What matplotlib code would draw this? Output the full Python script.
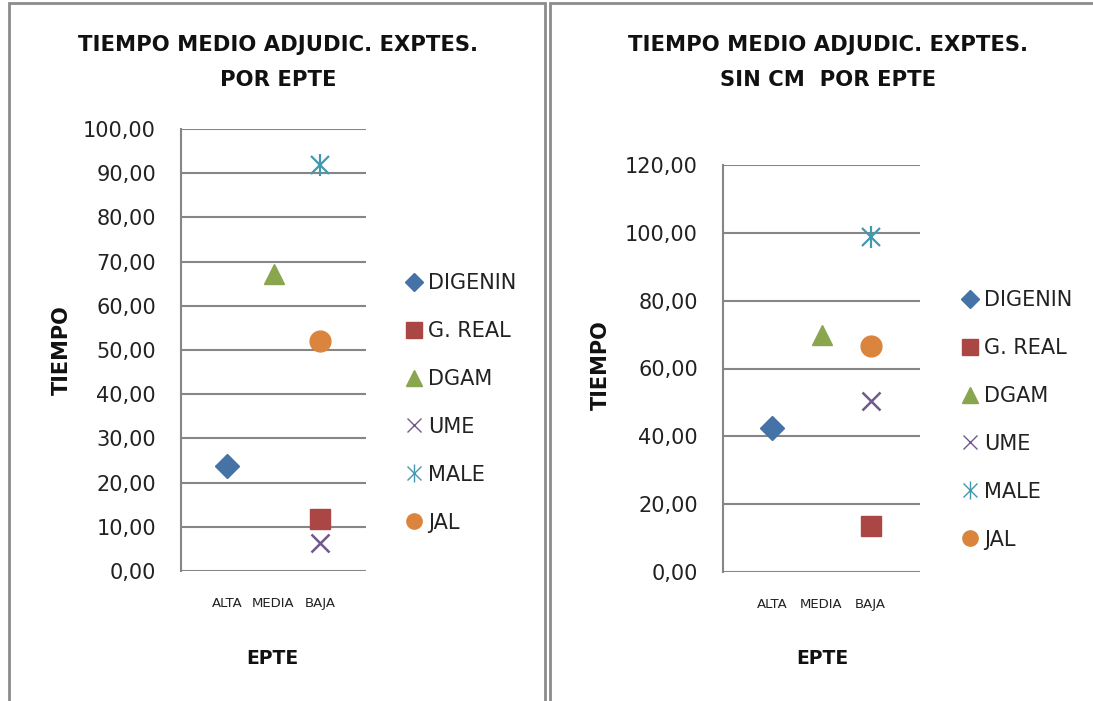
import matplotlib
matplotlib.use("Agg")
import matplotlib.pyplot as plt
from matplotlib.patches import Rectangle
from matplotlib.lines import Line2D
from matplotlib.legend_handler import HandlerTuple
from matplotlib.ticker import FuncFormatter

plt.rcParams["font.family"] = ["DejaVu Sans"]

categories = ["ALTA", "MEDIA", "BAJA"]
series = ["DIGENIN", "G. REAL", "DGAM", "UME", "MALE", "JAL"]
# category index (0=ALTA,1=MEDIA,2=BAJA) of each series
series_cat = [0, 2, 1, 2, 2, 2]
values_left = [23.8, 11.8, 67.3, 6.4, 91.9, 52.0]
values_right = [42.4, 13.6, 69.8, 50.3, 98.7, 66.5]
titles = ["TIEMPO MEDIO ADJUDIC. EXPTES.\nPOR EPTE",
          "TIEMPO MEDIO ADJUDIC. EXPTES.\nSIN CM  POR EPTE"]
yticks_left = [0, 10, 20, 30, 40, 50, 60, 70, 80, 90, 100]
yticks_right = [0, 20, 40, 60, 80, 100, 120]

colors = ["#4572A7", "#AA4643", "#89A54E", "#71588F", "#4198AF", "#DB843D"]
markers = ["D", "s", "^", "x", "x", "o"]
msizes = [12, 14, 14, 13, 13, 15]

W, H = 1093, 701
fig = plt.figure(figsize=(W / 100, H / 100), dpi=100)
fig.patch.set_facecolor("white")

def fx(px):
    return px / W

def fy(py):
    return 1 - py / H

# panel borders
for x0, x1 in [(9, 545), (550, 1100)]:
    fig.add_artist(Rectangle((fx(x0), fy(720)), fx(x1) - fx(x0), fy(3) - fy(720),
                             transform=fig.transFigure, fill=False,
                             edgecolor="#8c8c8c", linewidth=2, clip_on=False))

comma = FuncFormatter(lambda v, p: f"{v:.2f}".replace(".", ","))

def make(ax_box, values, yticks, title, title_x, ylab_pos, xlab_pos, leg_pos):
    l, t, r, b = ax_box
    ax = fig.add_axes([fx(l), fy(b), fx(r) - fx(l), fy(t) - fy(b)])
    ax.set_xlim(0, 4)
    ax.set_ylim(yticks[0], yticks[-1])
    ax.set_yticks(yticks)
    ax.yaxis.set_major_formatter(comma)
    ax.set_xticks([1, 2, 3])
    ax.set_xticklabels(categories, fontsize=9.5)
    ax.tick_params(axis="y", length=0, pad=18, labelsize=15, labelcolor="#222222")
    ax.tick_params(axis="x", length=0, pad=19, labelcolor="#222222")
    for s in ["top", "right", "bottom"]:
        ax.spines[s].set_visible(False)
    ax.spines["left"].set_color("#868686")
    ax.spines["left"].set_linewidth(1.5)
    ax.yaxis.grid(True, color="#868686", linewidth=1.5)
    ax.set_axisbelow(True)
    handles = []
    for i, name in enumerate(series):
        xpos = series_cat[i] + 1
        if name == "MALE":
            ax.plot([xpos], [values[i]], linestyle="none", marker="x",
                    markersize=msizes[i], markeredgewidth=1.6, color=colors[i])
            ax.plot([xpos], [values[i]], linestyle="none", marker="|",
                    markersize=msizes[i] + 3, markeredgewidth=1.6, color=colors[i])
            handles.append((
                Line2D([], [], linestyle="none", marker="x", markersize=10,
                       markeredgewidth=1.0, color=colors[i]),
                Line2D([], [], linestyle="none", marker="|", markersize=13,
                       markeredgewidth=1.0, color=colors[i])))
        elif name == "UME":
            ax.plot([xpos], [values[i]], linestyle="none", marker="x",
                    markersize=msizes[i], markeredgewidth=1.8, color=colors[i])
            handles.append(Line2D([], [], linestyle="none", marker="x", markersize=10,
                                  markeredgewidth=1.0, color=colors[i]))
        else:
            ax.plot([xpos], [values[i]], linestyle="none", marker=markers[i],
                    markersize=msizes[i], color=colors[i], markeredgecolor=colors[i])
            handles.append(Line2D([], [], linestyle="none", marker=markers[i],
                                  markersize=11 if markers[i] != "D" else 9,
                                  color=colors[i]))
    for k, line in enumerate(title.split("\n")):
        fig.text(fx(title_x), fy(45 + 35 * k), line, ha="center", va="center",
                 fontsize=15.2, fontweight="bold", color="#111111")
    fig.text(fx(ylab_pos[0]), fy(ylab_pos[1]), "TIEMPO", rotation=90, ha="center",
             va="center", fontsize=15, fontweight="bold", color="#111111")
    fig.text(fx(xlab_pos[0]), fy(xlab_pos[1]), "EPTE", ha="center", va="center",
             fontsize=13.5, fontweight="bold", color="#111111")
    leg = fig.legend(handles, series, loc="upper left",
                     bbox_to_anchor=(fx(leg_pos[0]), fy(leg_pos[1])),
                     bbox_transform=fig.transFigure, frameon=False,
                     fontsize=15, labelspacing=1.34, handlelength=0.9,
                     handletextpad=0.2, borderpad=0, borderaxespad=0,
                     handler_map={tuple: HandlerTuple(ndivide=1, pad=0)})
    for t in leg.get_texts():
        t.set_color("#222222")
    return ax

make((181, 129, 366, 571), values_left, yticks_left, titles[0], 278,
     (62, 350), (272, 658), (405, 273))
make((723, 165, 920, 572), values_right, yticks_right, titles[1], 828,
     (601, 365), (822, 658), (961, 290))

fig.savefig("out.png", dpi=100, facecolor="white")
